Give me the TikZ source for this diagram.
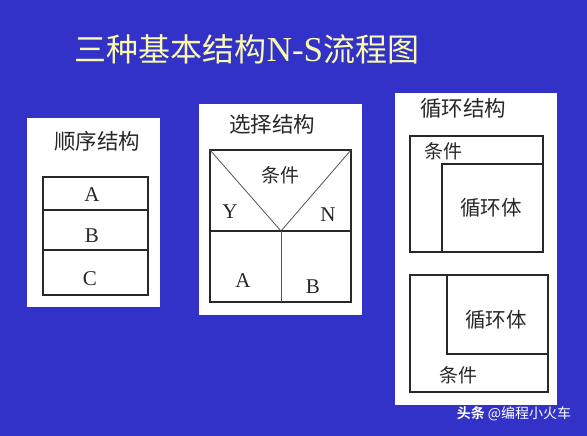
\documentclass[tikz,border=0pt]{standalone}
\usepackage{fontspec}
\setmainfont{Liberation Serif}
\newfontfamily\cjk{Noto Sans CJK SC}
\newfontfamily\cjkb{Noto Sans CJK SC Bold}
\definecolor{bgblue}{RGB}{50,50,200}
\definecolor{ttl}{RGB}{250,250,175}
\definecolor{ink}{RGB}{40,40,40}
\begin{document}
\begin{tikzpicture}[x=1pt,y=-1pt,
  panel/.style={fill=white},
  ln/.style={draw=ink,line width=1.1pt},
  thin/.style={draw=ink!80,line width=0.8pt},
  cj/.style={font=\cjk\fontsize{19}{19}\selectfont,text=ink,inner sep=0pt},
  cjb/.style={font=\cjk\fontsize{20.5}{20.5}\selectfont,text=ink,inner sep=0pt},
  cjt/.style={font=\cjk\fontsize{21.5}{21.5}\selectfont,text=ink,inner sep=0pt},
  lat/.style={font=\fontsize{21}{21}\selectfont,text=ink,inner sep=0pt},
]
\fill[bgblue] (0,0) rectangle (587,436);
\useasboundingbox (0,0) rectangle (587,436);

% title
\node[inner sep=0pt,text=ttl] (title) at (247,49)
  {\cjk\fontsize{32}{32}\selectfont 三种基本结构\fontspec{Liberation Serif}\fontsize{35}{35}\selectfont N-S\cjk\fontsize{32}{32}\selectfont 流程图};

% ---------- panel 1: sequence ----------
\fill[panel] (27,118) rectangle (160,307);
\node[cjt] (t1) at (97,141) {顺序结构};
\draw[ln] (43,177) rectangle (148,295);
\draw[ln] (43,210) -- (148,210);
\draw[ln] (43,250) -- (148,250);
\node[lat] (sa) at (92,195) {A};
\node[lat] (sb) at (92,236) {B};
\node[lat] (sc) at (90,279) {C};

% ---------- panel 2: selection ----------
\fill[panel] (199,104) rectangle (362,315);
\node[cjt] (t2) at (272,124) {选择结构};
\draw[ln] (210,150) rectangle (351,302);
\coordinate (v) at (281,231);
\draw[thin] (210,150) -- (v) -- (351,150);
\draw[ln] (210,231) -- (351,231);
\draw[thin] (v) -- (281,302);
\node[cj] (cond2) at (280,175) {条件};
\node[lat] (y) at (230,212) {Y};
\node[lat] (n) at (328,215) {N};
\node[lat] (a2) at (243,281) {A};
\node[lat] (b2) at (313,287) {B};

% ---------- panel 3: loop ----------
\fill[panel] (395,93) rectangle (557,405);
\node[cjt] (t3) at (463,108) {循环结构};
% while-type
\draw[ln] (410,136) rectangle (543,252);
\draw[ln] (442,252) -- (442,164) -- (543,164);
\node[cj] (cond3a) at (443,151) {条件};
\node[cjb] (body3a) at (491,208) {循环体};
% until-type
\draw[ln] (410,275) rectangle (548,392);
\draw[ln] (447,275) -- (447,354) -- (548,354);
\node[cjb] (body3b) at (496,320) {循环体};
\node[cj] (cond3b) at (458,375) {条件};

% watermark
\node[inner sep=0pt,text=white] (wm) at (514,414)
  {\cjkb\fontsize{14}{14}\selectfont 头条 \cjk @编程小火车};
\end{tikzpicture}
\end{document}
